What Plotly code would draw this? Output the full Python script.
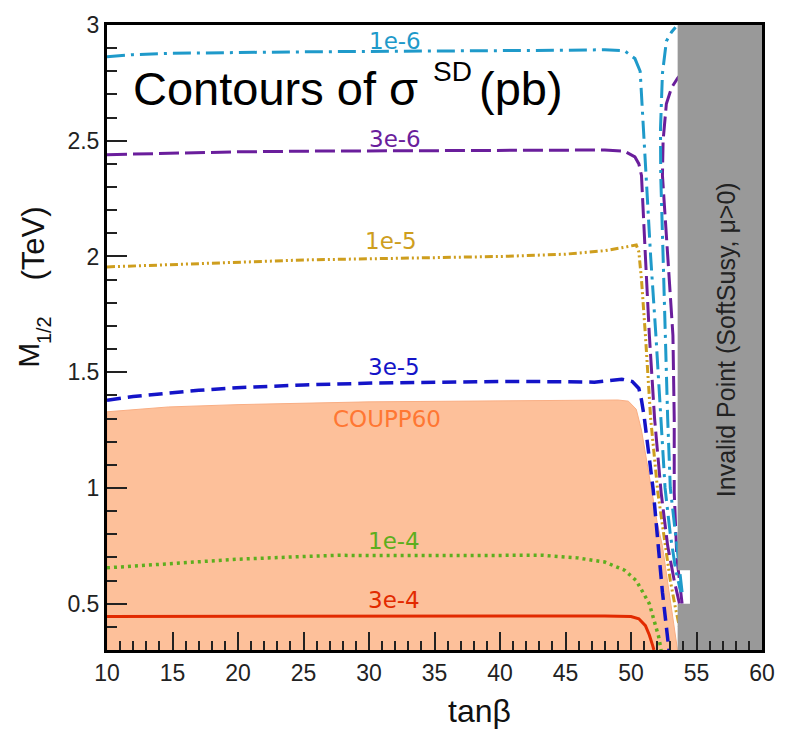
import plotly.graph_objects as go

# ---- data ----
coupp_x = [10, 10, 14.7, 20, 30, 40, 49, 49.8, 50.4, 50.8, 51.1, 51.5, 52.0, 52.4, 52.9, 53.3, 53.55]
coupp_y = [0.3, 1.329, 1.35, 1.36, 1.372, 1.377, 1.38, 1.375, 1.34, 1.25, 1.15, 1.0, 0.85, 0.75, 0.55, 0.4, 0.3]

c1e6_x = [10, 12, 15, 20, 25, 30, 35, 40, 45, 48, 49.5, 50.3, 50.7, 50.9, 51.15, 51.5, 51.9, 52.3, 52.6, 53.0, 53.4, 53.8,
          None,
          53.9, 53.5, 53.0, 52.8, 52.65, 52.45, 52.27, 52.25, 52.4, 52.7, 53.1, 53.4]
c1e6_y = [2.863, 2.872, 2.878, 2.882, 2.884, 2.886, 2.887, 2.889, 2.891, 2.893, 2.889, 2.855, 2.8, 2.6, 2.35, 2.0, 1.66, 1.3, 1.0, 0.8, 0.65, 0.55,
          None,
          0.55, 0.75, 1.0, 1.3, 1.66, 2.0, 2.35, 2.55, 2.79, 2.93, 2.97, 2.99]

c3e6_x = [10, 15, 20, 25, 30, 35, 40, 45, 48, 49.5, 50.3, 50.6, 50.8, 51.1, 51.4, 51.8, 52.3, 52.8, 53.3, 53.7,
          None,
          53.9, 53.5, 53.3, 53.3, 53.2, 52.8, 52.4, 52.45, 52.7, 53.1, 53.56, 54.0]
c3e6_y = [2.44, 2.447, 2.452, 2.455, 2.456, 2.458, 2.46, 2.462, 2.46, 2.455, 2.43, 2.4, 2.35, 2.0, 1.66, 1.3, 0.98, 0.75, 0.6, 0.5,
          None,
          0.5, 0.7, 0.98, 1.3, 1.66, 2.0, 2.35, 2.5, 2.66, 2.73, 2.77, 2.8]

c1e5_x = [10, 15, 20, 25, 30, 35, 40, 45, 48, 49.5, 50.4, 50.6, 50.8, 51.1, 51.5, 52.05, 52.6, 53.0, 53.4, 53.7]
c1e5_y = [1.955, 1.965, 1.975, 1.985, 1.99, 1.995, 2.0, 2.01, 2.025, 2.04, 2.05, 2.02, 1.9, 1.66, 1.3, 0.98, 0.75, 0.6, 0.48, 0.4]

c3e5_x = [10, 12, 14.7, 17, 19.9, 25, 30.3, 35, 40.7, 45, 47.2, 49.3, 50.1, 50.6, 50.8, 51.0, 51.5, 51.7, 52.0, 52.4, 52.9]
c3e5_y = [1.379, 1.395, 1.41, 1.422, 1.433, 1.445, 1.453, 1.457, 1.46, 1.459, 1.457, 1.47, 1.46, 1.43, 1.38, 1.31, 1.1, 0.99, 0.8, 0.55, 0.3]

c1e4_x = [10, 15, 19.9, 25, 27.7, 30, 35.5, 40, 43.3, 45.9, 48.0, 49.5, 50.4, 51.4, 52.1, 52.3]
c1e4_y = [0.655, 0.675, 0.692, 0.704, 0.709, 0.708, 0.707, 0.708, 0.709, 0.698, 0.68, 0.645, 0.6, 0.5, 0.36, 0.3]

c3e4_x = [10, 20, 30, 40, 48, 50, 50.6, 51.1, 51.4, 51.65, 51.75]
c3e4_y = [0.445, 0.446, 0.447, 0.447, 0.447, 0.445, 0.435, 0.405, 0.365, 0.32, 0.3]

invalid_x = [53.56, 60, 60, 53.56, 53.56, 54.5, 54.5, 53.56, 53.56]
invalid_y = [0.3, 0.3, 3, 3, 0.645, 0.645, 0.5, 0.5, 0.3]

label_text = ["1e-6", "3e-6", "1e-5", "3e-5", "1e-4", "3e-4"]
label_x = [32.0, 32.0, 31.7, 31.9, 31.9, 31.9]
label_y = [2.93, 2.506, 2.065, 1.524, 0.771, 0.517]

col = {
    "1e-6": "#1F9ACA",
    "3e-6": "#6A1E9C",
    "1e-5": "#CE9E1E",
    "3e-5": "#1414C8",
    "1e-4": "#5DAE1E",
    "3e-4": "#E22A00",
}

fig = go.Figure()

fig.add_trace(go.Scatter(x=coupp_x, y=coupp_y, mode="lines", fill="toself",
                         fillcolor="#FDC09A", line=dict(color="#F9AE84", width=1)))
fig.add_trace(go.Scatter(x=c3e4_x, y=c3e4_y, mode="lines",
                         line=dict(color=col["3e-4"], width=3)))
fig.add_trace(go.Scatter(x=c1e4_x, y=c1e4_y, mode="lines",
                         line=dict(color=col["1e-4"], width=3.5, dash="3px,4px")))
fig.add_trace(go.Scatter(x=c3e5_x, y=c3e5_y, mode="lines",
                         line=dict(color=col["3e-5"], width=3.5, dash="14px,7px")))
fig.add_trace(go.Scatter(x=c1e5_x, y=c1e5_y, mode="lines",
                         line=dict(color=col["1e-5"], width=3, dash="8px,3px,2px,3px,2px,3px")))
fig.add_trace(go.Scatter(x=c3e6_x, y=c3e6_y, mode="lines",
                         line=dict(color=col["3e-6"], width=3, dash="20px,6px")))
fig.add_trace(go.Scatter(x=c1e6_x, y=c1e6_y, mode="lines",
                         line=dict(color=col["1e-6"], width=3, dash="18px,6px,3px,6px")))
fig.add_trace(go.Scatter(x=invalid_x, y=invalid_y, mode="lines", fill="toself",
                         fillcolor="#999999", line=dict(color="#999999", width=0)))

for t, x, y in zip(label_text, label_x, label_y):
    fig.add_annotation(x=x, y=y, text=t, showarrow=False, xanchor="center", yanchor="middle",
                       font=dict(family="DejaVu Sans", size=23, color=col[t]))

fig.add_annotation(x=31.4, y=1.30, text="COUPP60", showarrow=False, xanchor="center", yanchor="middle",
                   font=dict(family="DejaVu Sans", size=23, color="#FF7733"))

fig.add_annotation(x=57.2, y=1.64, text="Invalid Point (SoftSusy, \u03bc>0)", showarrow=False,
                   textangle=-90, font=dict(family="Liberation Sans", size=25, color="#222222"))

# title: "Contours of σ^SD (pb)" built from plain text pieces
TF = "Liberation Sans"
fig.add_annotation(x=11.82, y=2.727, xanchor="left", yanchor="middle", text="Contours of \u03c3",
                   showarrow=False, font=dict(family=TF, size=47, color="#000000"))
fig.add_annotation(x=34.77, y=2.80, xanchor="left", yanchor="middle", text="SD",
                   showarrow=False, font=dict(family=TF, size=28, color="#000000"))
fig.add_annotation(x=38.26, y=2.727, xanchor="left", yanchor="middle", text="(pb)",
                   showarrow=False, font=dict(family=TF, size=47, color="#000000"))

# axis titles
fig.add_annotation(xref="paper", yref="paper", x=0.568, y=-0.098, xanchor="center", yanchor="middle",
                   text="tan\u03b2", showarrow=False, font=dict(family=TF, size=32, color="#111111"))
fig.add_annotation(xref="paper", yref="paper", x=-0.1197, y=0.4716, xanchor="center", yanchor="middle",
                   text="M", showarrow=False, textangle=-90, font=dict(family=TF, size=30, color="#111111"))
fig.add_annotation(xref="paper", yref="paper", x=-0.097, y=0.5126, xanchor="center", yanchor="middle",
                   text="1/2", showarrow=False, textangle=-90, font=dict(family=TF, size=20, color="#111111"))
fig.add_annotation(xref="paper", yref="paper", x=-0.1121, y=0.6498, xanchor="center", yanchor="middle",
                   text="(TeV)", showarrow=False, textangle=-90, font=dict(family=TF, size=31, color="#111111"))

fig.update_layout(width=787, height=735, margin=dict(l=107, r=20, t=16, b=85),
                  paper_bgcolor="white", plot_bgcolor="white", showlegend=False)
fig.update_xaxes(range=[10, 60], dtick=5, ticks="inside", ticklen=18, tickwidth=2, tickcolor="#222222",
                 showline=True, linecolor="black", linewidth=3, mirror=True, showgrid=False,
                 minor=dict(ticks="inside", dtick=1, ticklen=9, tickcolor="#222222", tickwidth=2),
                 tickfont=dict(family=TF, size=23, color="#222222"))
fig.update_yaxes(range=[0.3, 3], dtick=0.5, ticks="inside", ticklen=20, tickwidth=2, tickcolor="#222222",
                 showline=True, linecolor="black", linewidth=3, mirror=True, showgrid=False,
                 minor=dict(ticks="inside", dtick=0.1, ticklen=10, tickcolor="#222222", tickwidth=2),
                 tickfont=dict(family=TF, size=23, color="#222222"))
fig.write_html("out.html")
